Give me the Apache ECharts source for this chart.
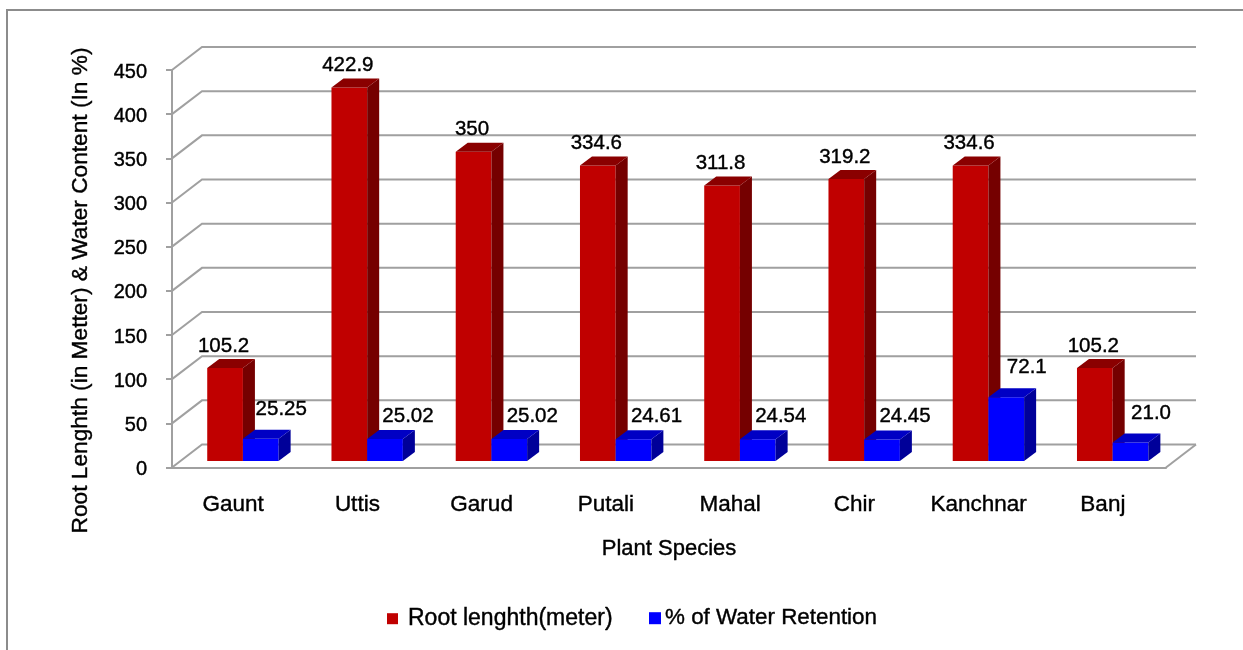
<!DOCTYPE html>
<html>
<head>
<meta charset="utf-8">
<title>Root length and water retention</title>
<script src="https://cdn.jsdelivr.net/npm/echarts@6/dist/echarts.min.js"></script>
<style>
  html, body { margin: 0; padding: 0; background: #fff; }
  #chart { width: 1243px; height: 650px; }
</style>
</head>
<body>
<div id="chart"></div>
<script>
const species = ['Gaunt', 'Uttis', 'Garud', 'Putali', 'Mahal', 'Chir', 'Kanchnar', 'Banj']
const rootLength = [105.2, 422.9, 350, 334.6, 311.8, 319.2, 334.6, 105.2]
const waterRetention = [25.25, 25.02, 25.02, 24.61, 24.54, 24.45, 72.1, 21.0]
const rootLabels = ['105.2', '422.9', '350', '334.6', '311.8', '319.2', '334.6', '105.2']
const waterLabels = ['25.25', '25.02', '25.02', '24.61', '24.54', '24.45', '72.1', '21.0']
const yTicks = [0, 50, 100, 150, 200, 250, 300, 350, 400, 450]

const FONT = '"Liberation Sans", Arial, sans-serif'
const GRID_LINE = '#a0a0a0'
// source text is a bit heavier than plain regular
const TEXT_WEIGHT = 0.4

// 3d look: depth of the walls, and of the bars standing in the middle of the floor
const wallDx = 30
const wallDy = 23
const barW = 35.7
const barDx = 12
const barDy = 9
const floorDx = 8.8
const floorDy = 6.5

const renderWall = (params, api) => {
  const sys = params.coordSys
  const y = api.coord([0, api.value(1)])[1]
  const x0 = sys.x
  const x1 = sys.x + sys.width
  const children = [{
    type: 'polyline',
    shape: { points: [[x0, y], [x0 + wallDx, y - wallDy], [x1 + wallDx, y - wallDy]] },
    style: { stroke: GRID_LINE, lineWidth: 2, fill: null },
  }]
  // floor closes on the right side
  if (api.value(1) === 0) {
    children.push({
      type: 'line',
      shape: { x1: x1, y1: y, x2: x1 + wallDx, y2: y - wallDy },
      style: { stroke: GRID_LINE, lineWidth: 2 },
    })
  }
  return { type: 'group', children }
}

// labelOffset(idx) gives [dx, dy] of the value label from the bar's top
const makeBarRender = (slot, colors, labels, labelOffset) => (params, api) => {
  const idx = api.value(0)
  const top = api.coord([idx, api.value(1)])
  const base = api.coord([idx, 0])
  const l = top[0] + floorDx + slot * barW
  const r = l + barW
  const t = top[1] - floorDy
  const b = base[1] - floorDy
  const off = labelOffset(idx)
  return {
    type: 'group',
    children: [
      { type: 'polygon', shape: { points: [[l, t], [r, t], [r, b], [l, b]] }, style: { fill: colors[0] } },
      { type: 'polygon', shape: { points: [[r, t], [r + barDx, t - barDy], [r + barDx, b - barDy], [r, b]] }, style: { fill: colors[1] } },
      { type: 'polygon', shape: { points: [[l, t], [l + barDx, t - barDy], [r + barDx, t - barDy], [r, t]] }, style: { fill: colors[2] } },
      {
        type: 'text',
        style: {
          text: labels[idx],
          x: (l + r) / 2 + off[0],
          y: t - barDy - off[1],
          align: 'center',
          verticalAlign: 'middle',
          fill: '#000',
          stroke: '#000',
          lineWidth: TEXT_WEIGHT,
          font: '20.5px ' + FONT,
        },
      },
    ],
  }
}

// Gaunt, Kanchnar and Banj labels sit higher above their bars in the source
const waterLabelOffset = idx => ([0, 6, 7].includes(idx) ? [20.5, 20.5] : [23, 14])

const chart = echarts.init(document.getElementById('chart'))

chart.setOption({
  animation: false,
  textStyle: { fontFamily: FONT },
  grid: { left: 172, top: 70, width: 994, height: 397.5 },
  legend: [
    {
      left: 387, top: 607, padding: 0, icon: 'rect', itemWidth: 11, itemHeight: 11,
      data: ['Root lenghth(meter)'],
      textStyle: { fontSize: 23, color: '#000', fontFamily: FONT, padding: [0, 0, 0, 5], textBorderColor: '#000', textBorderWidth: TEXT_WEIGHT },
    },
    {
      left: 649, top: 607, padding: 0, icon: 'rect', itemWidth: 12, itemHeight: 12,
      data: ['% of Water Retention'],
      textStyle: { fontSize: 22.4, color: '#000', fontFamily: FONT, padding: [0, 0, 0, -1], textBorderColor: '#000', textBorderWidth: TEXT_WEIGHT },
    },
  ],
  xAxis: {
    type: 'category',
    data: species,
    axisLine: { lineStyle: { color: GRID_LINE, width: 2 } },
    axisTick: { length: 6, lineStyle: { color: GRID_LINE, width: 2 } },
    axisLabel: { interval: 0, color: '#000', fontSize: 22.5, margin: 26, fontFamily: FONT, padding: [0, 2, 0, 0], textBorderColor: '#000', textBorderWidth: TEXT_WEIGHT },
  },
  yAxis: {
    type: 'value',
    min: 0,
    max: 450,
    interval: 50,
    axisLine: { show: true, lineStyle: { color: GRID_LINE, width: 2 } },
    axisTick: { show: true, length: 6, lineStyle: { color: GRID_LINE, width: 2 } },
    axisLabel: {
      margin: 25,
      formatter: '{tick|{value}}',
      // rich padding nudges the numbers a little below their ticks
      rich: { tick: { color: '#000', fontSize: 20, fontFamily: FONT, padding: [4, 0, 0, 0], textBorderColor: '#000', textBorderWidth: TEXT_WEIGHT } },
    },
    splitLine: { show: false },
  },
  graphic: [
    {
      type: 'rect', silent: true, z: -10,
      shape: { x: 7, y: 10, width: 1260, height: 680 },
      style: { fill: '#fff', stroke: '#8c8c8c', lineWidth: 2 },
    },
    {
      type: 'text', x: 81, y: 290.5, rotation: Math.PI / 2,
      style: { text: 'Root Lenghth (in Metter) & Water Content (In %)', align: 'center', verticalAlign: 'middle', fill: '#000', stroke: '#000', lineWidth: TEXT_WEIGHT, font: '22.7px ' + FONT },
    },
    {
      type: 'text', x: 669, y: 549,
      style: { text: 'Plant Species', align: 'center', verticalAlign: 'middle', fill: '#000', stroke: '#000', lineWidth: TEXT_WEIGHT, font: '22px ' + FONT },
    },
  ],
  series: [
    {
      name: 'walls',
      type: 'custom',
      z: 1,
      silent: true,
      renderItem: renderWall,
      encode: { x: 0, y: 1 },
      data: yTicks.map(v => [0, v]),
    },
    {
      name: 'Root lenghth(meter)',
      type: 'custom',
      z: 2,
      itemStyle: { color: '#c00000' },
      renderItem: makeBarRender(-1, ['#c00000', '#750000', '#8a0000'], rootLabels, () => [-1.5, 13]),
      encode: { x: 0, y: 1 },
      data: rootLength.map((v, i) => [i, v]),
    },
    {
      name: '% of Water Retention',
      type: 'custom',
      z: 3,
      itemStyle: { color: '#0000ff' },
      renderItem: makeBarRender(0, ['#0000ff', '#000099', '#0000c4'], waterLabels, waterLabelOffset),
      encode: { x: 0, y: 1 },
      data: waterRetention.map((v, i) => [i, v]),
    },
  ],
})

window.addEventListener('resize', () => chart.resize())
</script>
</body>
</html>
